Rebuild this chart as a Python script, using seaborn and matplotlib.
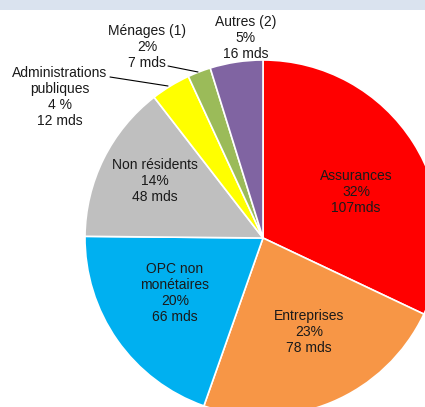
import matplotlib
matplotlib.use("Agg")
import matplotlib.pyplot as plt
import seaborn as sns
from matplotlib.patches import Rectangle

sns.set_theme(style="white")
plt.rcParams["font.family"] = ["Liberation Sans", "DejaVu Sans"]

# Données : détenteurs (milliards)
secteurs = ["Assurances", "Entreprises", "OPC non\nmonétaires", "Non résidents",
            "Administrations\npubliques", "Ménages (1)", "Autres (2)"]
montants = [107, 78, 66, 48, 12, 7, 16]
pourcentages = ["32%", "23%", "20%", "14%", "4 %", "2%", "5%"]
montants_txt = ["107mds", "78 mds", "66 mds", "48 mds", "12 mds", "7 mds", "16 mds"]
couleurs = ["#FF0000", "#F79646", "#00B0F0", "#BFBFBF", "#FFFF00", "#9BBB59", "#8064A2"]

# position des étiquettes (pixels dans l'image) et lignes de rappel
pos_labels = [(356, 192), (309, 332), (175, 293), (155, 181), (60, 97), (147, 47), (246, 38)]
rappels = {4: ((110, 77), (168, 86)), 5: ((168, 66), (198, 72))}

W, H = 425, 407
cx, cy, r = 263, 238, 178

fig = plt.figure(figsize=(W / 100, H / 100), dpi=100)
ax = fig.add_axes([(cx - r) / W, (H - cy - r) / H, 2 * r / W, 2 * r / H])
ax.pie(montants, colors=couleurs, startangle=90, counterclock=False, radius=1,
       wedgeprops=dict(edgecolor="white", linewidth=1.2))
ax.set_xlim(-1, 1)
ax.set_ylim(-1, 1)
ax.set_aspect("auto")
ax.axis("off")


def to_data(p):
    return ((p[0] - cx) / r, (cy - p[1]) / r)


for i, nom in enumerate(secteurs):
    x, y = to_data(pos_labels[i])
    ax.text(x, y, f"{nom}\n{pourcentages[i]}\n{montants_txt[i]}", ha="center", va="center",
            fontsize=10, color="#1a1a1a", linespacing=1.2, clip_on=False)

for i, (p0, p1) in rappels.items():
    x0, y0 = to_data(p0)
    x1, y1 = to_data(p1)
    ax.plot([x0, x1], [y0, y1], color="black", linewidth=0.8, clip_on=False)

# bandeau en haut
fig.patches.append(Rectangle((0, 1 - 10 / H), 1, 10 / H, transform=fig.transFigure,
                             facecolor="#DAE3EF", edgecolor="none", zorder=0))

fig.savefig("out.png", dpi=100)
